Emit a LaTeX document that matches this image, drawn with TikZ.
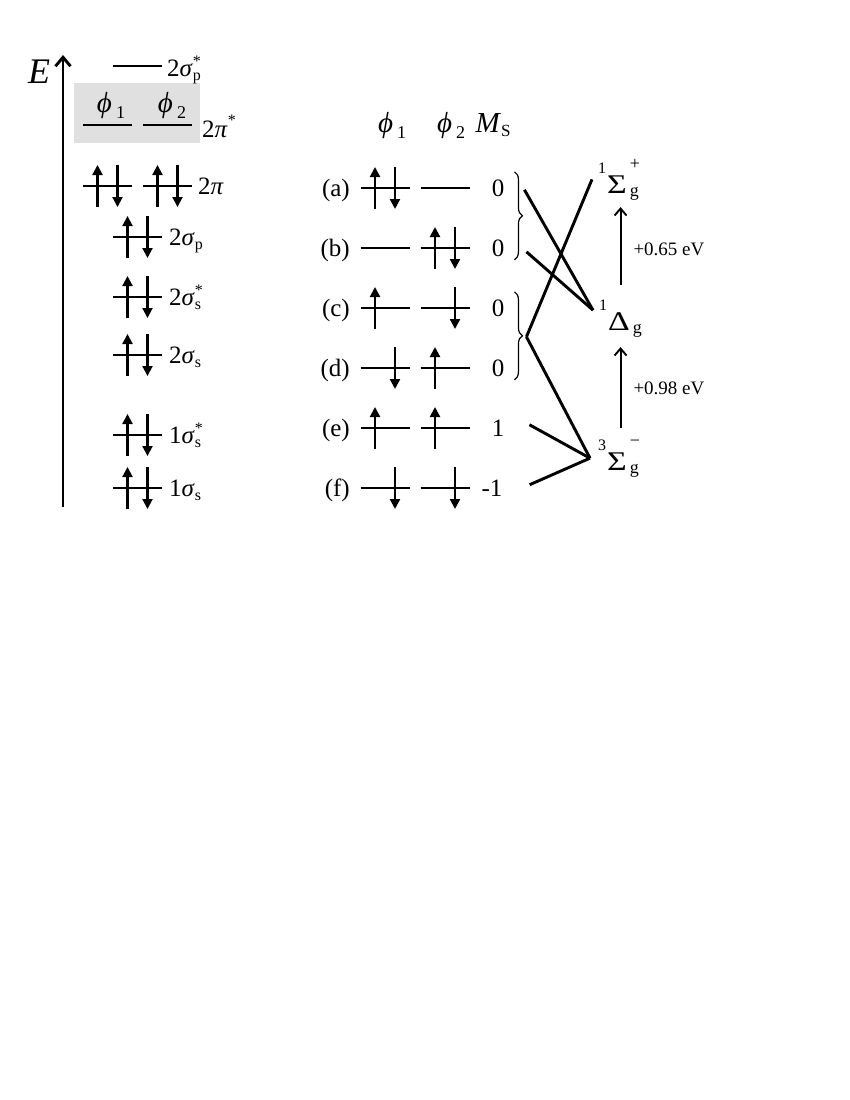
\documentclass[tikz,border=0pt]{standalone}
\usepackage{graphicx}
\usepackage{fontspec}
\setmainfont{Liberation Serif}
\usetikzlibrary{arrows.meta,decorations.pathreplacing}
\definecolor{boxgray}{RGB}{224, 224, 224}

\newcommand\spinup[1]{\draw[spin] ([xshift=-10pt,yshift=-21pt]#1.center) -- ([xshift=-10pt,yshift=21pt]#1.center);}
\newcommand\spindn[1]{\draw[spin] ([xshift=10pt,yshift=21pt]#1.center) -- ([xshift=10pt,yshift=-21pt]#1.center);}
\newcommand\spinpair[1]{\spinup{#1}\spindn{#1}}
\newcommand\mo[3]{#1\makebox[0pt][l]{\raisebox{10pt}{\fontsize{16}{16}\selectfont #2}}\raisebox{-4pt}{\fontsize{16}{16}\selectfont #3}}
\newcommand\phisub[1]{\textit{ϕ}\kern4pt\raisebox{-6pt}{\fontsize{18}{18}\selectfont #1}}
\newcommand\term[4]{\raisebox{20pt}{\fontsize{16}{16}\selectfont #1}\kern1pt\scalebox{1.25}[1]{#2}\makebox[0pt][l]{\kern3pt\raisebox{24pt}{\fontsize{18}{18}\selectfont #3}}\kern3pt\raisebox{-3pt}{\fontsize{18}{18}\selectfont #4}}

\begin{document}
\begin{tikzpicture}[
  lvl/.style={minimum width=49pt, minimum height=0pt, inner sep=0pt, outer sep=0pt,
    append after command={(\tikzlastnode.west) edge[line width=1.7pt] (\tikzlastnode.east)}},
  spin/.style={line width=2.1pt, -{Triangle[width=10pt,length=10pt]}},
  txt/.style={inner sep=0pt, font=\fontsize{25}{30}\selectfont},
  hd/.style={inner sep=0pt, font=\fontsize{29}{34}\selectfont},
  st/.style={inner sep=0pt, font=\fontsize{27}{32}\selectfont},
  ev/.style={inner sep=0pt, font=\fontsize{19}{22}\selectfont},
  conn/.style={line width=2.9pt},
  brc/.style={decorate, decoration={brace, amplitude=8pt}, line width=1.2pt},
  gap/.style={line width=1.9pt, -{Straight Barb[width=12pt,length=7pt]}}]
\useasboundingbox (0pt,0pt) rectangle (850pt,-1100pt);
\fill[white] (0pt,0pt) rectangle (850pt,-1100pt);
\fill[boxgray] (74pt,-83pt) rectangle (200pt,-143pt);

% energy axis
\coordinate (ebot) at (63pt,-507pt);
\coordinate (etop) at (63pt,-55pt);
\draw[line width=2.9pt, -{Straight Barb[width=15pt,length=9pt]}] (ebot) -- (etop);
\node (E) [inner sep=0pt, anchor=base, font=\fontsize{36}{40}\selectfont\itshape] at (39pt,-83pt) {E};

% orbital levels of O2
\node (sps) [lvl] at (137.5pt,-66pt) {};
\node (pis1) [lvl] at (107.5pt,-125pt) {};
\node (pis2) [lvl] at (167.5pt,-125pt) {};
\node (pi1) [lvl] at (107.5pt,-186pt) {};
\node (pi2) [lvl] at (167.5pt,-186pt) {};
\node (sp) [lvl] at (137.5pt,-237pt) {};
\node (sss) [lvl] at (137.5pt,-297pt) {};
\node (ss) [lvl] at (137.5pt,-355pt) {};
\node (oss) [lvl] at (137.5pt,-435pt) {};
\node (os) [lvl] at (137.5pt,-488pt) {};
\spinpair{pi1}
\spinpair{pi2}
\spinpair{sp}
\spinpair{sss}
\spinpair{ss}
\spinpair{oss}
\spinpair{os}
\node (f1) [hd, anchor=base] at (111pt,-112pt) {\phisub{1}};
\node (f2) [hd, anchor=base] at (172pt,-112pt) {\phisub{2}};
\node (lsps) [txt, anchor=base west] at (167pt,-76pt) {\mo{2\textit{σ}}{*}{p}};
\node (lpis) [txt, anchor=base west] at (202pt,-137pt) {2\textit{π}\raisebox{12pt}{\fontsize{16}{16}\selectfont *}};
\node (lpi) [txt, anchor=base west] at (198pt,-194pt) {2\textit{π}};
\node (lsp) [txt, anchor=base west] at (169pt,-245pt) {\mo{2\textit{σ}}{}{p}};
\node (lsss) [txt, anchor=base west] at (169pt,-305pt) {\mo{2\textit{σ}}{*}{s}};
\node (lss) [txt, anchor=base west] at (169pt,-363pt) {\mo{2\textit{σ}}{}{s}};
\node (loss) [txt, anchor=base west] at (169pt,-443pt) {\mo{1\textit{σ}}{*}{s}};
\node (los) [txt, anchor=base west] at (169pt,-496pt) {\mo{1\textit{σ}}{}{s}};

% microstates of 2pi*
\node (h1) [hd, anchor=base] at (392pt,-132pt) {\phisub{1}};
\node (h2) [hd, anchor=base] at (451pt,-132pt) {\phisub{2}};
\node (hm) [hd, anchor=base] at (493pt,-132pt) {\textit{M}\raisebox{-4pt}{\fontsize{17}{17}\selectfont S}};
\node (ra) [txt, anchor=base east] at (350pt,-196pt) {(a)};
\node (rb) [txt, anchor=base east] at (350pt,-256pt) {(b)};
\node (rc) [txt, anchor=base east] at (350pt,-316pt) {(c)};
\node (rd) [txt, anchor=base east] at (350pt,-376pt) {(d)};
\node (re) [txt, anchor=base east] at (350pt,-436pt) {(e)};
\node (rf) [txt, anchor=base east] at (350pt,-496pt) {(f)};
\node (a1) [lvl] at (385pt,-188pt) {};
\node (a2) [lvl] at (445pt,-188pt) {};
\node (b1) [lvl] at (385pt,-248pt) {};
\node (b2) [lvl] at (445pt,-248pt) {};
\node (c1) [lvl] at (385pt,-308pt) {};
\node (c2) [lvl] at (445pt,-308pt) {};
\node (d1) [lvl] at (385pt,-368pt) {};
\node (d2) [lvl] at (445pt,-368pt) {};
\node (e1) [lvl] at (385pt,-428pt) {};
\node (e2) [lvl] at (445pt,-428pt) {};
\node (f1r) [lvl] at (385pt,-488pt) {};
\node (f2r) [lvl] at (445pt,-488pt) {};
\spinpair{a1}
\spinpair{b2}
\spinup{c1}
\spindn{c2}
\spindn{d1}
\spinup{d2}
\spinup{e1}
\spinup{e2}
\spindn{f1r}
\spindn{f2r}
\node (ma) [txt, anchor=base] at (498pt,-196pt) {0};
\node (mb) [txt, anchor=base] at (498pt,-256pt) {0};
\node (mc) [txt, anchor=base] at (498pt,-316pt) {0};
\node (md) [txt, anchor=base] at (498pt,-376pt) {0};
\node (me) [txt, anchor=base] at (498pt,-436pt) {1};
\node (mf) [txt, anchor=base] at (492pt,-496pt) {-1};
\draw[brc] ([xshift=10pt,yshift=16pt]ma.east) -- ([xshift=10pt,yshift=-12pt]mb.east);
\draw[brc] ([xshift=10pt,yshift=16pt]mc.east) -- ([xshift=10pt,yshift=-12pt]md.east);

% term symbols
\node (S) [st, anchor=base west] at (598pt,-193pt) {\term{1}{Σ}{+}{g}};
\node (D) [st, anchor=base west] at (599pt,-330pt) {\term{1}{Δ}{}{g}};
\node (T) [st, anchor=base west] at (598pt,-470pt) {\term{3}{Σ}{−}{g}};
\coordinate (cd) at ([xshift=22pt,yshift=-29pt]mc.east);
\draw[conn] ([xshift=20pt,yshift=-2pt]ma.east) -- ([xshift=-6pt,yshift=8pt]D.west);
\draw[conn] ([xshift=22pt,yshift=-4pt]mb.east) -- ([xshift=-6pt,yshift=8pt]D.west);
\draw[conn] (cd) -- ([xshift=-6pt]S.west);
\draw[conn] (cd) -- ([xshift=-8pt]T.west);
\draw[conn] ([xshift=25pt,yshift=3pt]me.east) -- ([xshift=-8pt]T.west);
\draw[conn] ([xshift=27pt,yshift=3pt]mf.east) -- ([xshift=-8pt]T.west);
\draw[gap, shorten <=14pt, shorten >=7pt] (D.north) -- (D.north |- S.south) node[ev, midway, right=12pt] {+0.65 eV};
\draw[gap, shorten <=11pt, shorten >=10pt] (T.north -| D.south) -- (D.south) node[ev, midway, right=12pt] {+0.98 eV};
\end{tikzpicture}
\end{document}
